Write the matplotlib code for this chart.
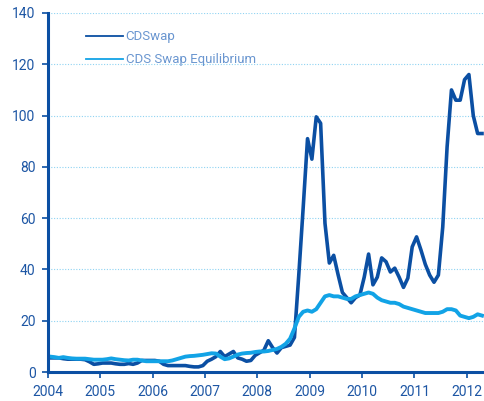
"""
CDSwap vs CDS Swap Equilibrium, monthly 2004-2012
"""

import numpy as np
import matplotlib.pyplot as plt

plt.rcParams['font.family'] = ['Roboto', 'DejaVu Sans']

# monthly values (Jan 2004 .. Apr 2012)
cdswap = [
    5.5, 5.5, 5.5, 5.2, 5.0, 5.0, 5.0, 5.0, 4.8, 4.0, 3.0, 3.2,        # 2004
    3.5, 3.5, 3.5, 3.2, 3.0, 3.0, 3.3, 3.0, 3.5, 4.5, 4.5, 4.5,        # 2005
    4.5, 4.2, 3.0, 2.5, 2.5, 2.5, 2.5, 2.5, 2.2, 2.0, 2.0, 2.5,        # 2006
    4.2, 5.0, 6.0, 8.0, 6.0, 7.0, 8.0, 5.5, 5.0, 4.2, 4.5, 6.5,        # 2007
    7.5, 8.5, 12.2, 9.5, 7.4, 9.5, 10.0, 10.5, 13.5, 38.0, 64.0, 91.0,  # 2008
    83.0, 99.5, 97.0, 58.0, 42.5, 45.5, 38.0, 31.0, 29.0, 27.0, 29.0, 30.0,  # 2009
    37.0, 46.0, 34.0, 37.0, 44.5, 43.0, 39.0, 40.5, 37.0, 33.0, 36.6, 48.8,  # 2010
    52.7, 47.6, 42.0, 37.8, 35.0, 37.8, 56.5, 87.8, 110.0, 106.0, 106.0, 114.0,  # 2011
    116.0, 100.0, 93.0, 93.0,                                         # 2012
]
cds_equilibrium = [
    6.0, 5.8, 5.5, 5.8, 5.5, 5.3, 5.2, 5.2, 5.2, 5.0, 4.8, 4.8,        # 2004
    4.8, 5.0, 5.3, 5.0, 4.8, 4.6, 4.5, 4.8, 4.8, 4.5, 4.2, 4.2,        # 2005
    4.2, 4.2, 4.2, 4.2, 4.5, 5.0, 5.5, 6.0, 6.2, 6.3, 6.5, 6.7,        # 2006
    7.0, 7.3, 7.2, 6.0, 5.0, 5.3, 6.0, 6.8, 7.2, 7.4, 7.5, 7.8,        # 2007
    8.0, 8.0, 8.2, 8.6, 9.0, 9.8, 11.0, 13.0, 17.0, 21.5, 23.5, 24.0,  # 2008
    23.5, 24.5, 27.0, 29.5, 30.0, 29.5, 29.5, 29.0, 28.5, 28.5, 29.5, 30.0,  # 2009
    30.5, 31.0, 30.5, 29.0, 28.0, 27.5, 27.0, 27.0, 26.5, 25.5, 25.0, 24.5,  # 2010
    24.0, 23.5, 23.0, 23.0, 23.0, 23.0, 23.5, 24.5, 24.5, 24.0, 22.0, 21.5,  # 2011
    21.0, 21.5, 22.5, 22.0,                                           # 2012
]
year_ticks = list(range(2004, 2013))
y_ticks = list(range(0, 141, 20))

# mid-month positions in decimal years
t = 2004 + (np.arange(len(cdswap)) + 0.5) / 12

dark = '#0b4fa3'
light = '#12a3e6'
text_dark = '#1d56a4'

fig = plt.figure(figsize=(4.84, 4.01), dpi=100)
ax = fig.add_axes([0.0992, 0.0723, 0.9008, 0.8953])

ax.plot(t, cdswap, color=dark, linewidth=2.6, label='CDSwap')
ax.plot(t, cds_equilibrium, color=light, linewidth=2.8, label='CDS Swap Equilibrium')

ax.set_xlim(2004, 2012.33)
ax.set_ylim(0, 140)
ax.set_xticks(year_ticks)
ax.set_yticks(y_ticks)

# dotted horizontal grid
for y in y_ticks[1:]:
    ax.axhline(y, color='#8fd3f2', linestyle=(0, (1, 1.5)), linewidth=0.8, zorder=0)

for side in ['top', 'right']:
    ax.spines[side].set_visible(False)
for side in ['left', 'bottom']:
    ax.spines[side].set_color(dark)
    ax.spines[side].set_linewidth(2.2)

ax.tick_params(axis='both', colors=dark, labelcolor=text_dark, labelsize=10,
               length=4, width=1.2, direction='out')
ax.tick_params(axis='x', pad=5)
ax.tick_params(axis='y', pad=5)

leg = ax.legend(loc='upper left', bbox_to_anchor=(0.06, 0.985), frameon=False,
                fontsize=9.5, handlelength=2.8, handletextpad=0.2, labelspacing=0.75)
for line in leg.get_lines():
    line.set_linewidth(1.3)
for txt in leg.get_texts():
    txt.set_color('#6a96d0')

plt.savefig('out.png', dpi=100)
